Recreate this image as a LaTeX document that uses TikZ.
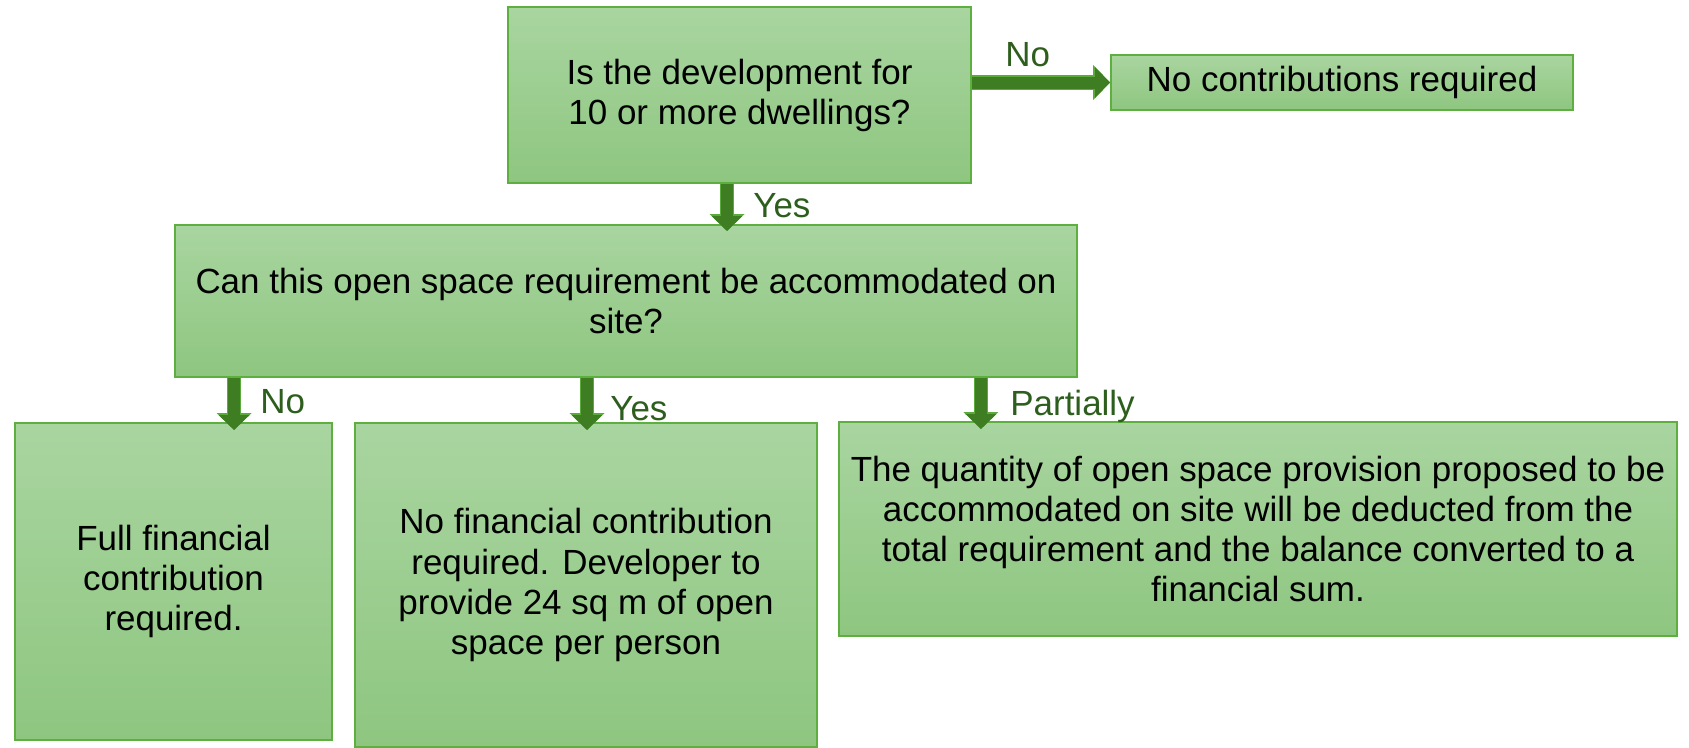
\documentclass[tikz,border=0pt]{standalone}
\usepackage{fontspec}
\setmainfont{Liberation Sans}
\usepackage{xcolor}
\usetikzlibrary{arrows.meta}

\definecolor{boxtop}{HTML}{A9D5A0}
\definecolor{boxbottom}{HTML}{8EC680}
\definecolor{boxedge}{HTML}{5DB040}
\definecolor{arrowdark}{HTML}{3E7D22}
\definecolor{arrowedge}{HTML}{5AAA3C}
\definecolor{labelgreen}{HTML}{2E5E1E}

\begin{document}
\begin{tikzpicture}[x=0.02cm, y=-0.02cm,
    box/.style={draw=boxedge, line width=0.04cm, top color=boxtop,
        bottom color=boxbottom, inner sep=0pt, align=center,
        font=\fontsize{19.9}{22.8}\selectfont},
    arr/.style={draw=arrowdark, line width=0.24cm, shorten >=-0.16cm,
        -{Triangle[width=0.6cm,length=0.3cm]},
        preaction={draw=arrowedge, line width=0.29cm,
            -{Triangle[width=0.68cm,length=0.34cm]}}},
    lbl/.style={labelgreen, anchor=base west, inner sep=0pt,
        font=\fontsize{19.9}{22.8}\selectfont}]
    \useasboundingbox (0,0) rectangle (1689,747);

    % Questions
    \node [box, minimum width=9.26cm, minimum height=3.52cm] (dwell)
        at (739.5,95) {Is the development for\\10 or more dwellings?};
    \node [box, minimum width=9.24cm, minimum height=1.10cm] (nocontrib)
        at (1342,82.5) {No contributions required};
    \node [box, minimum width=18.04cm, minimum height=3.04cm] (onsite)
        at (626,301) {Can this open space requirement be accommodated on\\site?};

    % Outcomes
    \node [box, minimum width=6.34cm, minimum height=6.34cm] (full)
        at (173.5,581.5) {Full financial\\contribution\\required.};
    \node [box, minimum width=9.24cm, minimum height=6.48cm] (none)
        at (586,585) {No financial contribution\\required. Developer to\\
        provide 24 sq m of open\\space per person};
    \node [box, minimum width=16.76cm, minimum height=4.28cm] (partial)
        at (1258,529) {The quantity of open space provision proposed to be\\
        accommodated on site will be deducted from the\\
        total requirement and the balance converted to a\\financial sum.};

    % Arrows
    \coordinate (yesA) at ([xshift=-0.25cm]dwell.south);
    \coordinate (noB) at ([xshift=-7.84cm]onsite.south);
    \coordinate (yesB) at ([xshift=-0.78cm]onsite.south);
    \coordinate (partB) at ([xshift=7.1cm]onsite.south);
    \draw [arr, shorten >=0pt] (dwell.east |- nocontrib.west) -- (nocontrib.west);
    \draw [arr, shorten >=-0.14cm] (yesA) -- (yesA |- onsite.north);
    \draw [arr] (noB) -- (noB |- full.north);
    \draw [arr] (yesB) -- (yesB |- none.north);
    \draw [arr] (partB) -- (partB |- partial.north);

    % Arrow labels
    \node [lbl] (lno) at (1005,66) {No};
    \node [lbl] (lyes) at (753,217) {Yes};
    \node [lbl] (lnob) at (260,413) {No};
    \node [lbl] (lyesb) at (610,420) {Yes};
    \node [lbl] (lpart) at (1010,415) {Partially};
\end{tikzpicture}
\end{document}
